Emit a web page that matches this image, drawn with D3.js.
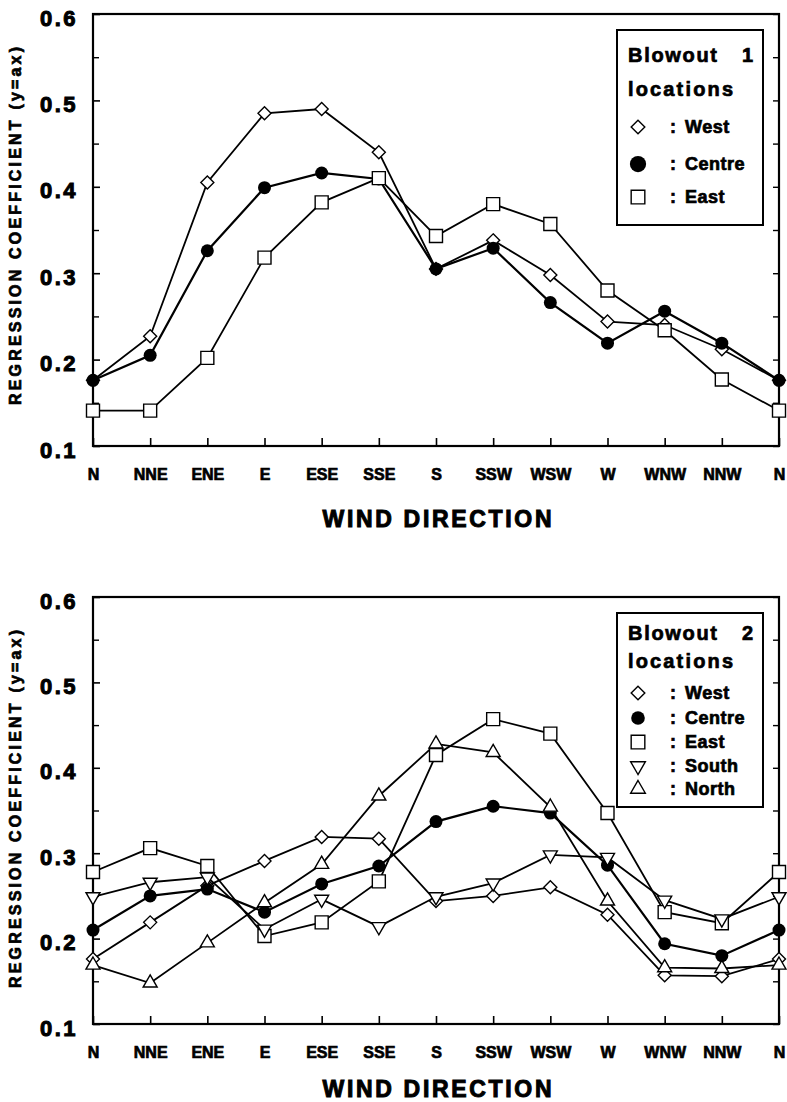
<!DOCTYPE html>
<html>
<head>
<meta charset="utf-8">
<script src="https://cdn.jsdelivr.net/npm/d3@7"></script>
<style>
  body { margin: 0; background: #fff; }
  svg { font-family: "Liberation Sans", Arial, sans-serif; font-weight: bold; }
  svg text { stroke: #000; stroke-width: 0.7px; }
</style>
</head>
<body>
<svg id="chart" width="787" height="1102"></svg>
<script>
// wind directions on the x axis (N repeated at the end)
const directions = ["N", "NNE", "ENE", "E", "ESE", "SSE", "S", "SSW", "WSW", "W", "WNW", "NNW", "N"];
const yTicks = [0.1, 0.2, 0.3, 0.4, 0.5, 0.6];
const yMinorTicks = [0.15, 0.25, 0.35, 0.45, 0.55];

// Blowout 1
const b1West   = [0.176, 0.227, 0.405, 0.485, 0.490, 0.440, 0.305, 0.338, 0.298, 0.244, 0.240, 0.212, 0.176];
const b1Centre = [0.176, 0.205, 0.326, 0.399, 0.416, 0.409, 0.305, 0.329, 0.266, 0.219, 0.256, 0.219, 0.176];
const b1East   = [0.141, 0.141, 0.202, 0.318, 0.382, 0.410, 0.343, 0.380, 0.357, 0.280, 0.234, 0.177, 0.141];

// Blowout 2
const b2West   = [0.176, 0.219, 0.262, 0.291, 0.319, 0.317, 0.244, 0.250, 0.260, 0.228, 0.157, 0.156, 0.176];
const b2Centre = [0.210, 0.250, 0.258, 0.231, 0.264, 0.285, 0.337, 0.355, 0.347, 0.286, 0.194, 0.180, 0.210];
const b2East   = [0.278, 0.306, 0.285, 0.203, 0.219, 0.267, 0.415, 0.457, 0.440, 0.347, 0.231, 0.218, 0.278];
const b2South  = [0.249, 0.266, 0.272, 0.211, 0.246, 0.214, 0.249, 0.265, 0.298, 0.295, 0.245, 0.223, 0.249];
const b2North  = [0.169, 0.148, 0.195, 0.242, 0.287, 0.367, 0.428, 0.418, 0.354, 0.244, 0.166, 0.165, 0.169];

const svg = d3.select("#chart");
const left = 93, right = 779;

const panels = [
  {
    top: 14, bottom: 446, titleY: 527, number: "1",
    series: [
      { name: "West", symbol: "diamond", values: b1West },
      { name: "Centre", symbol: "circle", values: b1Centre },
      { name: "East", symbol: "square", values: b1East }
    ],
    legend: { x: 617, y: 30, w: 146, h: 195, titleRows: [62, 96], rows: [133, 170, 203], big: true }
  },
  {
    top: 597, bottom: 1024, titleY: 1097, number: "2",
    series: [
      { name: "West", symbol: "diamond", values: b2West },
      { name: "Centre", symbol: "circle", values: b2Centre },
      { name: "East", symbol: "square", values: b2East },
      { name: "South", symbol: "triDown", values: b2South },
      { name: "North", symbol: "triUp", values: b2North }
    ],
    legend: { x: 617, y: 613, w: 146, h: 194, titleRows: [640, 668], rows: [699, 724, 748, 772, 795], big: false }
  }
];

function marker(g, type, x, y, scale = 1) {
  if (type === "circle") {
    g.append("circle").attr("cx", x).attr("cy", y).attr("r", 6.5 * scale).attr("fill", "#000");
    return;
  }
  let d;
  if (type === "diamond") {
    const s = 6.5 * scale;
    d = `M0,${-s}L${s},0L0,${s}L${-s},0Z`;
  } else if (type === "square") {
    const s = 6.5 * scale;
    d = `M${-s},${-s}H${s}V${s}H${-s}Z`;
  } else {
    d = d3.symbol(d3.symbolTriangle, 85 * scale * scale)();
  }
  g.append("path")
    .attr("d", d)
    .attr("transform", `translate(${x},${y})` + (type === "triDown" ? " rotate(180)" : ""))
    .attr("fill", "#fff")
    .attr("stroke", "#000")
    .attr("stroke-width", 1.4);
}

panels.forEach(p => {
  const x = d3.scaleLinear().domain([0, directions.length - 1]).range([left, right]);
  const y = d3.scaleLinear().domain([0.1, 0.6]).range([p.bottom, p.top]);
  const g = svg.append("g");

  // x axis: ticks pointing up, labels below
  g.append("g")
    .attr("transform", `translate(0,${p.bottom})`)
    .call(d3.axisBottom(x).tickValues(d3.range(directions.length))
      .tickFormat(i => directions[i]).tickSizeInner(-8).tickSizeOuter(0).tickPadding(23))
    .call(a => a.select(".domain").remove())
    .call(a => a.selectAll("line").attr("stroke-width", 1.6))
    .call(a => a.selectAll("text").attr("font-size", 16).attr("font-family", null)
      .attr("fill", "#000"));

  // y axis left (major with labels, minor without)
  g.append("g")
    .attr("transform", `translate(${left},0)`)
    .call(d3.axisLeft(y).tickValues(yTicks).tickFormat(d3.format(".1f"))
      .tickSizeInner(-7).tickSizeOuter(0).tickPadding(15))
    .call(a => a.select(".domain").remove())
    .call(a => a.selectAll("line").attr("stroke-width", 1.6))
    .call(a => a.selectAll("text").attr("font-size", 22).attr("font-family", null)
      .attr("letter-spacing", 2.5).attr("dy", "0.5em").attr("fill", "#000")
      .style("stroke-width", "1px"));
  g.append("g")
    .attr("transform", `translate(${left},0)`)
    .call(d3.axisLeft(y).tickValues(yMinorTicks).tickFormat("").tickSizeInner(-6).tickSizeOuter(0))
    .call(a => a.select(".domain").remove())
    .call(a => a.selectAll("line").attr("stroke-width", 1.4));

  // y axis right, ticks inward
  g.append("g")
    .attr("transform", `translate(${right},0)`)
    .call(d3.axisRight(y).tickValues(yTicks.concat(yMinorTicks)).tickFormat("").tickSizeInner(-6).tickSizeOuter(0))
    .call(a => a.select(".domain").remove())
    .call(a => a.selectAll("line").attr("stroke-width", 1.4));

  // frame
  g.append("rect")
    .attr("x", left).attr("y", p.top)
    .attr("width", right - left).attr("height", p.bottom - p.top)
    .attr("fill", "none").attr("stroke", "#000").attr("stroke-width", 2.2);

  // axis titles
  const midY = p.top + 33 + 179;
  g.append("text")
    .attr("transform", `translate(21,${midY}) rotate(-90)`)
    .attr("text-anchor", "middle")
    .attr("font-size", 16)
    .attr("textLength", 358).attr("lengthAdjust", "spacing")
    .text("REGRESSION  COEFFICIENT  (y=ax)");
  g.append("text")
    .attr("x", 437).attr("y", p.titleY)
    .attr("text-anchor", "middle")
    .attr("font-size", 23)
    .style("stroke-width", "1px")
    .attr("textLength", 229).attr("lengthAdjust", "spacing")
    .text("WIND  DIRECTION");

  // series
  const line = d3.line().x((d, i) => x(i)).y(d => y(d));
  p.series.forEach(s => {
    g.append("path")
      .datum(s.values)
      .attr("d", line)
      .attr("fill", "none")
      .attr("stroke", "#000")
      .attr("stroke-width", s.symbol === "circle" ? 2.2 : 1.8);
  });
  p.series.forEach(s => {
    s.values.forEach((v, i) => marker(g, s.symbol, x(i), y(v)));
  });

  // legend
  const L = p.legend;
  const lg = svg.append("g");
  lg.append("rect")
    .attr("x", L.x).attr("y", L.y).attr("width", L.w).attr("height", L.h)
    .attr("fill", "#fff").attr("stroke", "#000").attr("stroke-width", 2);
  lg.append("text").attr("x", L.x + 11).attr("y", L.titleRows[0]).attr("font-size", 20)
    .attr("textLength", 89).attr("lengthAdjust", "spacing").text("Blowout");
  lg.append("text").attr("x", L.x + 125).attr("y", L.titleRows[0]).attr("font-size", 20).text(p.number);
  lg.append("text").attr("x", L.x + 11).attr("y", L.titleRows[1]).attr("font-size", 20)
    .attr("textLength", 105).attr("lengthAdjust", "spacing").text("locations");
  p.series.forEach((s, i) => {
    const by = L.rows[i];
    marker(lg, s.symbol, L.x + 21, by - 6, L.big && s.symbol === "circle" ? 1.25 : 1.05);
    lg.append("text").attr("x", L.x + 53).attr("y", by).attr("font-size", 18).text(":");
    lg.append("text").attr("x", L.x + 68).attr("y", by).attr("font-size", 18)
      .attr("letter-spacing", 0.5).text(s.name);
  });
});
</script>
</body>
</html>
